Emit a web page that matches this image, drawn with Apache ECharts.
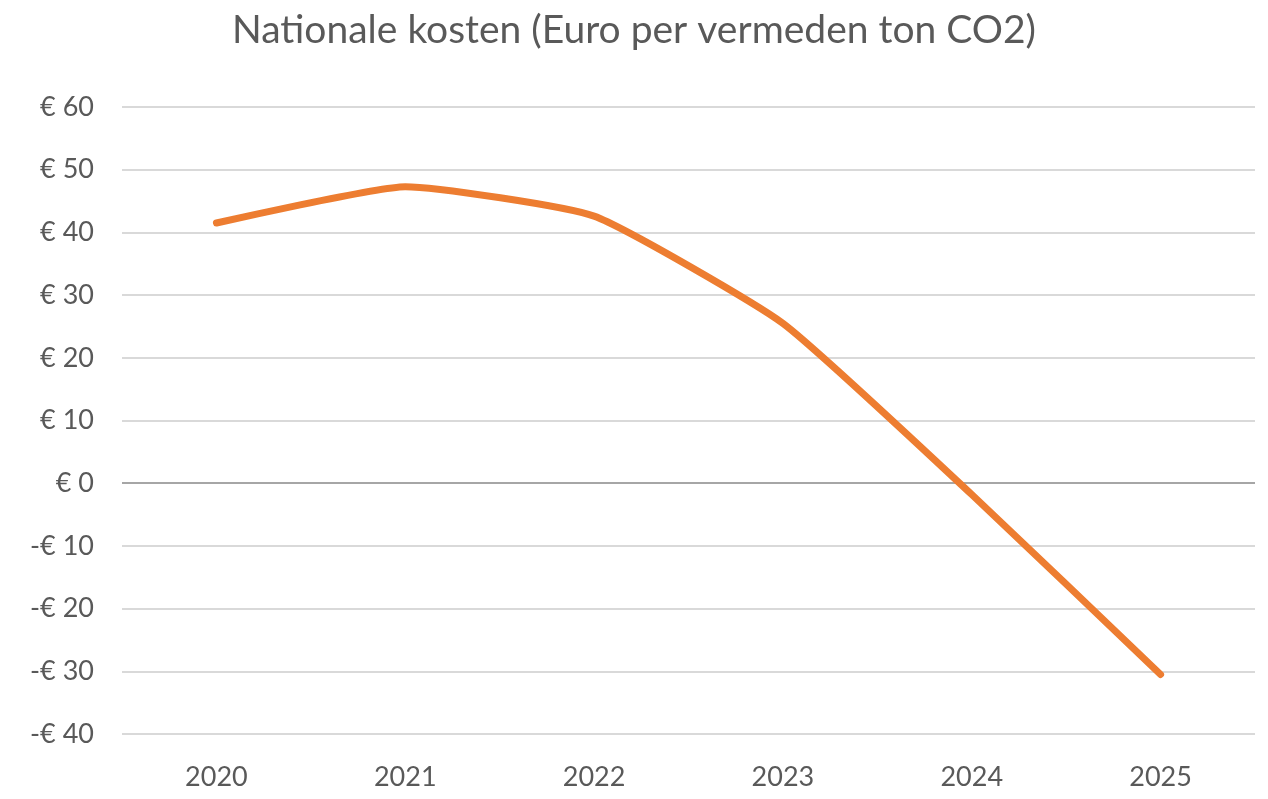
<!DOCTYPE html>
<html>
<head>
<meta charset="utf-8">
<script src="https://cdn.jsdelivr.net/npm/echarts@6/dist/echarts.min.js"></script>
<style>
  html, body { margin: 0; padding: 0; background: #fff; }
  #chart { width: 1268px; height: 799px; }
</style>
</head>
<body>
<div id="chart"></div>
<script>
// jaren op de x-as
var years = ['2020', '2021', '2022', '2023', '2024', '2025'];
var kosten = [41.5, 47.3, 42.6, 25.5, -1.8, -30.5];
// y-as
var yMin = -40, yMax = 60, yStep = 10;

var gridColors = [];
for (var v = yMin; v <= yMax; v += yStep) {
    gridColors.push(v === 0 ? '#a6a6a6' : '#d9d9d9'); // nullijn donkerder
}

var chart = echarts.init(document.getElementById('chart'));
chart.setOption({
    animation: false,
    title: {
        text: 'Nationale kosten (Euro per vermeden ton CO2)',
        left: 'center',
        top: 6,
        textStyle: {
            fontFamily: 'Lato',
            fontWeight: 'normal',
            fontSize: 39,
            color: '#595959'
        }
    },
    grid: {
        left: 122,
        right: 13,
        top: 107,
        bottom: 65
    },
    xAxis: {
        type: 'category',
        data: years,
        boundaryGap: true,
        axisLine: { show: false },
        axisTick: { show: false },
        axisLabel: {
            margin: 30,
            fontFamily: 'Lato',
            fontSize: 27,
            color: '#595959'
        }
    },
    yAxis: {
        type: 'value',
        min: yMin,
        max: yMax,
        interval: yStep,
        axisLine: { show: false },
        axisTick: { show: false },
        axisLabel: {
            margin: 28,
            fontFamily: 'Lato',
            fontSize: 27,
            color: '#595959',
            formatter: function (val) {
                return val < 0 ? '-€ ' + Math.abs(val) : '€ ' + val;
            }
        },
        splitLine: {
            lineStyle: { color: gridColors, width: 2 }
        }
    },
    series: [{
        name: 'Nationale kosten',
        type: 'line',
        data: kosten,
        smooth: 0.15,
        showSymbol: false,
        lineStyle: { color: '#ED7D31', width: 7, cap: 'round' }
    }]
});
</script>
</body>
</html>
